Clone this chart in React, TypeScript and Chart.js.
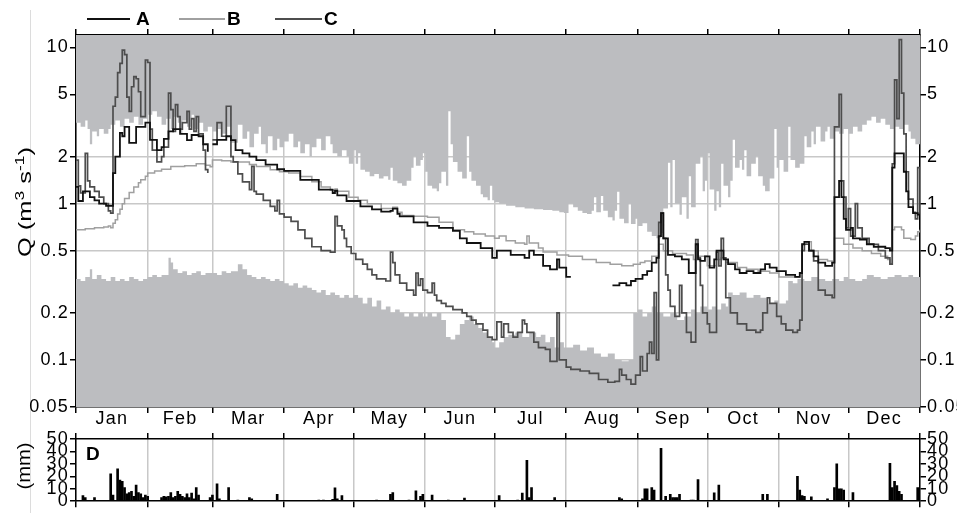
import React, { useEffect, useRef } from 'react';
import { Chart, registerables } from 'chart.js';

Chart.register(...registerables);

// Day-of-year month boundaries (non-leap year) and labels
const monthStarts = [0, 31, 59, 90, 120, 151, 181, 212, 243, 273, 304, 334, 365];
const monthNames = ['Jan', 'Feb', 'Mar', 'Apr', 'May', 'Jun', 'Jul', 'Aug', 'Sep', 'Oct', 'Nov', 'Dec'];
const flowTicks = [0.05, 0.1, 0.2, 0.5, 1, 2, 5, 10];
const rainTicks = [0, 10, 20, 30, 40, 50];
const seriesNames = ['A', 'B', 'C'];

type Pt = [number, number | null];

// Upper limit of the unshaded band (shaded above), daily discharge m3/s
const upperEnvelope: Pt[] = [
  [0, 3.3], [2, 3.1], [4, 3.4], [5, 3.0], [6, 2.4], [7, 2.9], [9, 2.7], [10, 3.0], [12, 2.8], [14, 3.0],
  [15, 3.2], [17, 3.4], [19, 3.1], [21, 3.5], [23, 3.3], [25, 3.6], [27, 3.2], [29, 3.5],
  [31, 3.7], [33, 3.9], [35, 3.6], [37, 3.2], [39, 3.5], [41, 3.0], [42, 3.6], [44, 3.3], [45, 2.8], [46, 3.4],
  [48, 3.1], [50, 3.7], [51, 3.0], [53, 3.3], [55, 2.9], [57, 3.1],
  [59, 2.9], [61, 3.0], [63, 2.8], [65, 3.1], [67, 2.45], [70, 3.2], [72, 2.6], [74, 2.9], [75, 2.3], [77, 2.8],
  [79, 3.1], [80, 2.4], [82, 2.1], [83, 2.7], [85, 2.2], [87, 2.6], [88, 2.3],
  [90, 2.5], [92, 2.8], [94, 2.3], [96, 2.5], [97, 2.1], [99, 2.4], [101, 2.0], [102, 2.3], [104, 2.6], [106, 2.2],
  [108, 2.7], [110, 2.4], [111, 2.1], [113, 2.0], [115, 2.2], [117, 2.0], [118, 1.8],
  [120, 2.2], [121, 1.8], [122, 2.1], [123, 1.65], [125, 1.6], [127, 1.5], [129, 1.55], [131, 1.45], [133, 1.5],
  [135, 1.42], [136, 1.7], [137, 1.4], [139, 1.35], [141, 1.3], [143, 1.4], [145, 1.7], [146, 2.0], [147, 1.75],
  [149, 1.9], [150, 2.1],
  [151, 1.6], [152, 1.3], [154, 1.25], [156, 1.2], [157, 1.35], [158, 1.6], [160, 1.3], [161, 3.9], [162, 2.4],
  [163, 1.85], [165, 1.6], [167, 1.45], [169, 2.7], [170, 1.6], [171, 1.4], [173, 1.3], [175, 1.15], [176, 1.1],
  [178, 1.05], [179, 1.3], [180, 1.05],
  [181, 1.02], [183, 1.0], [186, 0.97], [190, 0.95], [194, 0.93], [198, 0.92], [202, 0.91], [206, 0.9], [209, 0.88], [211, 0.87],
  [213, 1.0], [215, 0.95], [217, 0.9], [219, 0.87], [221, 0.86], [223, 0.9], [224, 1.1], [225, 0.88], [227, 1.12],
  [228, 0.9], [230, 0.82], [232, 0.78], [233, 0.9], [234, 1.19], [235, 0.8], [237, 0.75], [239, 1.0], [240, 0.74], [242, 0.8],
  [243, 0.72], [245, 0.75], [247, 0.66], [249, 0.62], [251, 0.6], [253, 0.65], [254, 0.93], [256, 1.83], [257, 0.95],
  [258, 1.9], [259, 1.0], [261, 0.85], [262, 1.1], [264, 0.8], [265, 1.5], [266, 0.95], [268, 1.8], [270, 2.0], [271, 1.2], [272, 1.4],
  [273, 2.1], [274, 1.23], [276, 0.9], [277, 1.2], [278, 0.95], [279, 1.8], [280, 1.3], [282, 1.1], [283, 1.4], [284, 2.56],
  [285, 1.7], [287, 1.9], [288, 1.65], [289, 2.2], [290, 1.5], [292, 1.8], [294, 2.0], [295, 1.5], [297, 1.3], [298, 1.2],
  [300, 1.45], [302, 3.0], [303, 1.7],
  [304, 1.9], [306, 1.6], [308, 3.1], [309, 1.9], [311, 1.7], [313, 1.8], [315, 2.7], [316, 2.3], [318, 2.9], [319, 2.4],
  [320, 3.1], [322, 2.5], [324, 2.9], [325, 3.1], [326, 2.6], [328, 2.9], [330, 2.8], [332, 3.0],
  [334, 2.8], [336, 3.1], [338, 2.9], [340, 3.2], [342, 3.4], [344, 3.6], [346, 3.3], [348, 3.5], [350, 3.2], [352, 3.0],
  [354, 3.1], [356, 3.0], [358, 3.2], [360, 2.9], [361, 2.6], [363, 2.4], [365, 2.3],
];

// Lower limit of the unshaded band (shaded below)
const lowerEnvelope: Pt[] = [
  [0, 0.33], [2, 0.32], [4, 0.34], [6, 0.38], [7, 0.33], [9, 0.35], [11, 0.33], [13, 0.32], [15, 0.34], [17, 0.32],
  [19, 0.33], [21, 0.32], [23, 0.34], [25, 0.33], [27, 0.32], [29, 0.33],
  [31, 0.34], [33, 0.35], [35, 0.34], [37, 0.35], [40, 0.45], [41, 0.42], [42, 0.38], [44, 0.36], [46, 0.37], [48, 0.35],
  [50, 0.36], [52, 0.37], [54, 0.35], [56, 0.36],
  [59, 0.36], [61, 0.35], [63, 0.37], [65, 0.36], [67, 0.37], [70, 0.41], [72, 0.38], [74, 0.35], [76, 0.34], [78, 0.33],
  [80, 0.34], [82, 0.33], [84, 0.32], [86, 0.33], [88, 0.32],
  [90, 0.31], [92, 0.3], [94, 0.31], [96, 0.29], [98, 0.3], [100, 0.29], [102, 0.28], [104, 0.27], [106, 0.28], [108, 0.26],
  [110, 0.27], [112, 0.26], [114, 0.25], [116, 0.26], [118, 0.25],
  [120, 0.26], [122, 0.25], [124, 0.23], [126, 0.25], [128, 0.22], [130, 0.24], [132, 0.21], [134, 0.22], [136, 0.2],
  [138, 0.21], [140, 0.2], [142, 0.19], [144, 0.2], [146, 0.19], [148, 0.2], [150, 0.19],
  [152, 0.2], [154, 0.19], [156, 0.2], [158, 0.18], [160, 0.14], [162, 0.135], [164, 0.145], [166, 0.17], [168, 0.18],
  [170, 0.19], [172, 0.17], [174, 0.16], [176, 0.15], [178, 0.14], [180, 0.13],
  [181, 0.12], [183, 0.13], [185, 0.14], [187, 0.145], [190, 0.15], [193, 0.14], [196, 0.15], [199, 0.14], [201, 0.145],
  [203, 0.13], [205, 0.14], [207, 0.12], [209, 0.13], [211, 0.12],
  [213, 0.12], [215, 0.125], [218, 0.115], [221, 0.12], [224, 0.11], [227, 0.105], [230, 0.11], [233, 0.1], [236, 0.098],
  [239, 0.1], [241, 0.2],
  [243, 0.21], [245, 0.19], [247, 0.2], [249, 0.22], [251, 0.2], [254, 0.19], [257, 0.2], [260, 0.18], [263, 0.19],
  [266, 0.21], [268, 0.2], [270, 0.22],
  [273, 0.21], [275, 0.22], [277, 0.21], [279, 0.23], [281, 0.22], [282, 0.27], [284, 0.26], [287, 0.27], [290, 0.25],
  [293, 0.26], [296, 0.25], [299, 0.23], [302, 0.24],
  [304, 0.23], [307, 0.24], [308, 0.32], [310, 0.31], [312, 0.33], [315, 0.32], [318, 0.34], [321, 0.33], [324, 0.32],
  [327, 0.33], [330, 0.32], [332, 0.34],
  [334, 0.33], [337, 0.32], [340, 0.33], [342, 0.35], [345, 0.34], [348, 0.33], [351, 0.34], [354, 0.35], [357, 0.34],
  [360, 0.35], [362, 0.34], [365, 0.33],
];

// Station discharge series
const flowA: Pt[] = [
  [0, 1.28], [1, 1.04], [3, 1.2], [6, 1.1], [8, 1.05], [10, 1.0], [13, 0.97], [16, 1.57], [17, 2.0], [19, 2.84],
  [20, 2.7], [21, 3.1], [23, 2.45], [26, 3.1], [30, 3.3], [32, 2.56], [35, 2.2], [37, 2.3], [38, 2.6], [40, 2.9],
  [42, 3.0], [45, 2.8], [48, 2.55], [50, 2.75], [53, 2.7], [55, 2.4], [57, 2.15], [58, null],
  [59, 2.4], [61, 2.56], [65, 2.7], [67, 2.55], [69, 2.2], [72, 2.1], [75, 2.0], [78, 1.9], [82, 1.78], [87, 1.66],
  [90, 1.62], [97, 1.42], [105, 1.23], [111, 1.17], [112, 1.21], [113, 1.13], [117, 1.04], [123, 0.96], [128, 0.92],
  [132, 0.89], [136, 0.9], [137, 0.93], [139, 0.86], [140, 0.83], [146, 0.76], [152, 0.72], [157, 0.7], [163, 0.67],
  [166, 0.6], [169, 0.56], [175, 0.52], [180, 0.45], [182, 0.5], [184, 0.5], [188, 0.47], [194, 0.45], [196, 0.5],
  [198, 0.47], [202, 0.4], [205, 0.38], [208, 0.44], [209, 0.39], [212, 0.34], [214, 0.34], [215, null],
  [232, 0.3], [235, 0.31], [238, 0.3], [240, 0.32], [242, 0.33], [245, 0.35], [247, 0.37], [249, 0.42], [251, 0.45],
  [252, 0.62], [253, 0.87], [254, 0.6], [256, 0.47], [259, 0.46], [262, 0.44], [265, 0.36], [268, 0.55], [269, 0.44],
  [270, 0.43], [272, 0.46], [274, 0.39], [276, 0.44], [277, 0.5], [279, 0.5], [280, 0.44], [282, 0.41], [285, 0.38],
  [287, 0.36], [290, 0.37], [293, 0.36], [296, 0.38], [298, 0.41], [300, 0.39], [303, 0.37], [307, 0.35], [311, 0.34],
  [313, 0.36], [314, 0.55], [315, 0.57], [317, 0.5], [319, 0.46], [321, 0.42], [324, 0.4], [327, 0.42], [328, 1.1],
  [330, 1.4], [331, 1.1], [332, 0.8], [333, 0.68], [335, 0.7], [336, 0.6], [339, 0.59], [342, 0.55], [345, 0.53],
  [350, 0.52], [352, 0.5], [353, 1.7], [354, 2.1], [357, 2.1], [358, 1.6], [359, 1.2], [360, 0.95], [362, 0.87],
  [364, 0.85], [365, 0.85],
];

const flowB: Pt[] = [
  [0, 0.68], [4, 0.69], [8, 0.7], [12, 0.71], [14, 0.72], [15, 0.7], [16, 0.75], [17, 0.79], [18, 0.86], [19, 0.92],
  [20, 1.0], [21, 1.08], [23, 1.18], [25, 1.28], [27, 1.36], [28, 1.42], [30, 1.5], [31, 1.57], [34, 1.62], [37, 1.66],
  [41, 1.73], [47, 1.75], [52, 1.8], [56, 1.76], [58, 1.72], [59, 1.9], [63, 1.88], [67, 1.85], [72, 1.85], [75, 1.78],
  [78, 1.73], [84, 1.65], [88, 1.6], [92, 1.57], [97, 1.49], [102, 1.38], [106, 1.28], [110, 1.22], [112, 1.24],
  [113, 1.2], [118, 1.1], [122, 1.05], [126, 1.0], [132, 0.93], [136, 0.93], [137, 0.95], [139, 0.88], [141, 0.84],
  [146, 0.83], [152, 0.82], [157, 0.76], [163, 0.68], [168, 0.66], [172, 0.64], [177, 0.62], [181, 0.6], [183, 0.62],
  [186, 0.58], [190, 0.56], [194, 0.55], [195, 0.62], [196, 0.56], [200, 0.52], [202, 0.49], [208, 0.47], [213, 0.46],
  [219, 0.44], [225, 0.42], [231, 0.41], [236, 0.4], [241, 0.41], [244, 0.42], [246, 0.43], [249, 0.46], [252, 0.55],
  [254, 0.5], [258, 0.48], [264, 0.47], [267, 0.44], [268, 0.55], [269, 0.46], [273, 0.4], [277, 0.44], [279, 0.45],
  [281, 0.42], [286, 0.39], [290, 0.38], [295, 0.37], [300, 0.36], [304, 0.34], [308, 0.34], [313, 0.36], [314, 0.55],
  [316, 0.57], [318, 0.5], [321, 0.44], [325, 0.43], [327, 0.42], [328, 0.6], [330, 0.6], [332, 0.55], [336, 0.52],
  [340, 0.5], [344, 0.48], [348, 0.46], [351, 0.44], [352, 0.41], [353, 0.68], [354, 0.71], [357, 0.68], [358, 0.6],
  [361, 0.59], [363, 0.62], [364, 0.66], [365, 0.68],
];

const flowC: Pt[] = [
  [0, 1.9], [1, 1.3], [2, 1.17], [4, 2.1], [5, 1.4], [6, 1.28], [8, 1.2], [10, 1.1], [12, 1.0], [14, 0.9], [15, 0.87],
  [16, 4.2], [17, 4.8], [18, 6.9], [19, 7.9], [20, 9.6], [21, 9.0], [22, 4.8], [23, 3.9], [24, 5.6], [25, 6.5], [26, 6.3],
  [27, 5.2], [28, 3.6], [30, 8.3], [31, 8.0], [32, 3.0], [33, 2.2], [35, 1.85], [37, 2.0], [38, 2.3], [40, 5.1], [41, 4.0],
  [42, 2.9], [43, 4.3], [44, 3.6], [45, 3.0], [46, 3.3], [48, 3.9], [49, 3.0], [50, 3.5], [51, 2.9], [52, 3.6], [53, 2.8],
  [55, 2.2], [56, 1.65], [57, 1.57], [58, null],
  [59, 2.56], [61, 3.3], [63, 2.7], [65, 4.2], [67, 2.0], [68, 1.85], [70, 1.55], [72, 1.38], [75, 1.23], [76, 1.73],
  [77, 1.2], [78, 1.15], [81, 1.05], [84, 0.96], [86, 0.9], [87, 1.05], [88, 0.86], [90, 0.82], [93, 0.77], [96, 0.68],
  [99, 0.6], [102, 0.53], [106, 0.5], [110, 0.49], [112, 0.83], [113, 0.72], [115, 0.68], [116, 0.6], [117, 0.53],
  [119, 0.48], [121, 0.44], [124, 0.41], [126, 0.38], [128, 0.35], [130, 0.33], [134, 0.32], [136, 0.49], [137, 0.42],
  [138, 0.35], [140, 0.31], [143, 0.28], [146, 0.26], [147, 0.36], [148, 0.3], [149, 0.33], [150, 0.28], [152, 0.27],
  [154, 0.31], [155, 0.26], [156, 0.24], [158, 0.23], [160, 0.22], [163, 0.21], [165, 0.21], [167, 0.2], [169, 0.19],
  [171, 0.18], [173, 0.17], [176, 0.155], [178, 0.14], [180, 0.135], [182, 0.175], [184, 0.14], [185, 0.17], [187, 0.15],
  [189, 0.14], [191, 0.15], [193, 0.18], [194, 0.17], [195, 0.15], [198, 0.13], [200, 0.12], [203, 0.117], [205, 0.098],
  [208, 0.2], [209, 0.1], [212, 0.09], [214, 0.087], [218, 0.085], [222, 0.082], [226, 0.075], [230, 0.072], [233, 0.073],
  [235, 0.087], [236, 0.08], [238, 0.075], [240, 0.07], [242, 0.08], [244, 0.105], [245, 0.085], [247, 0.11], [248, 0.13],
  [249, 0.11], [250, 0.27], [251, 0.1], [252, 0.76], [253, 0.87], [254, 0.6], [255, 0.35], [256, 0.28], [257, 0.22],
  [259, 0.19], [261, 0.3], [262, 0.2], [264, 0.15], [266, 0.13], [268, 0.59], [269, 0.45], [270, 0.3], [271, 0.2],
  [273, 0.17], [274, 0.15], [276, 0.15], [277, 0.49], [278, 0.4], [279, 0.6], [280, 0.45], [281, 0.25], [283, 0.2],
  [286, 0.17], [290, 0.155], [294, 0.15], [296, 0.155], [297, 0.2], [299, 0.25], [300, 0.23], [303, 0.19], [305, 0.17],
  [307, 0.155], [310, 0.15], [312, 0.155], [313, 0.18], [314, 0.5], [315, 0.55], [317, 0.5], [319, 0.43], [321, 0.28],
  [324, 0.26], [327, 0.25], [328, 3.1], [330, 5.0], [331, 1.4], [332, 1.1], [333, 0.7], [334, 0.93], [335, 0.62],
  [337, 1.0], [338, 0.7], [340, 0.6], [343, 0.55], [347, 0.5], [350, 0.45], [352, 0.41], [353, 1.8], [354, 6.2],
  [355, 3.5], [356, 11.2], [357, 5.1], [358, 2.8], [359, 1.6], [360, 1.07], [362, 0.88], [363, 0.8], [364, 1.7], [365, 0.85],
];

// Daily precipitation, mm
const rainD: Pt[] = [
  [3, 4.5], [4, 3], [8, 3], [15, 22], [16, 5], [18, 26], [19, 17], [20, 16], [21, 11], [22, 6], [23, 7], [24, 8], [25, 4],
  [26, 13], [27, 7], [28, 6], [29, 3], [30, 5], [31, 4], [37, 3], [38, 4], [39, 3.5], [40, 4], [41, 7], [42, 3], [43, 4],
  [44, 8], [45, 5.5], [46, 4], [47, 3], [48, 6], [49, 3], [50, 6.5], [51, 2], [52, 11], [53, 5], [58, 3], [59, 5],
  [61, 14], [62, 2], [66, 11], [70, 1], [75, 3], [76, 2], [87, 5.5], [105, 1], [107, 1], [111, 1.5], [112, 10.7],
  [113, 2], [115, 4.5], [130, 1], [136, 5.5], [137, 7], [144, 1], [147, 8.4], [149, 4], [150, 5.5], [154, 5], [161, 1],
  [168, 2.5], [183, 4.5], [191, 1], [193, 6.5], [195, 32.8], [196, 3], [197, 11], [207, 3], [235, 3], [236, 2],
  [245, 2], [246, 10], [247, 10], [249, 11], [250, 9], [253, 42.5], [255, 4], [257, 5.5], [258, 3], [259, 3], [260, 3],
  [261, 5.5], [266, 1], [267, 1], [269, 17.4], [276, 6.7], [278, 13], [290, 0.5], [297, 5.5], [299, 5.5], [312, 20],
  [313, 9], [314, 4.5], [315, 4], [318, 3.5], [325, 2], [328, 11], [329, 30], [330, 10], [331, 10], [332, 9], [336, 7],
  [352, 30.5], [353, 11], [354, 16], [355, 12.5], [356, 8], [357, 5.5], [364, 11],
];

const FONT = "'Liberation Sans', Arial, Helvetica, sans-serif";
const GRID = '#c8c8c8';
const BAND = '#bcbdc0';
const SERIES_COLORS = ['#111111', '#a0a0a0', '#4d4d4d'];
const SERIES_WIDTHS = [1.8, 1.5, 1.7];
const TICK_FONT = { family: FONT, size: 18 };
const TICK_SPACING = '1.2px';
const EDGE = { display: true, color: '#000', width: 1.5 };
const CLEAR = 'rgba(0,0,0,0)';

const monthMids = monthStarts.slice(0, -1).map((s, i) => (s + monthStarts[i + 1]) / 2);
const isBoundary = (v: any) => monthStarts.includes(v);
const toXY = (pts: Pt[]) => pts.map(([x, y]) => ({ x, y }));
const forceTicks = (values: number[]) => (scale: any) => {
  scale.ticks = values.map((value) => ({ value }));
};

// Legend entries and panel text placement (pixels)
const legendLayout = [
  { x0: 87, x1: 130, tx: 136 },
  { x0: 179, x1: 225, tx: 227 },
  { x0: 275, x1: 322, tx: 324 },
];

// Rotated axis title with optional superscript parts, stretched to a given length
function drawRotated(
  ctx: CanvasRenderingContext2D,
  cx: number,
  cy: number,
  length: number,
  size: number,
  parts: { t: string; sup?: boolean }[],
) {
  ctx.save();
  (ctx as any).letterSpacing = '0px';
  ctx.translate(cx, cy);
  ctx.rotate(-Math.PI / 2);
  ctx.fillStyle = '#000';
  ctx.textBaseline = 'alphabetic';
  ctx.textAlign = 'left';
  const supSize = Math.round(size * 0.68);
  let total = 0;
  for (const p of parts) {
    ctx.font = `${p.sup ? supSize : size}px ${FONT}`;
    total += ctx.measureText(p.t).width;
  }
  ctx.scale(length / total, 1);
  let x = -total / 2;
  for (const p of parts) {
    ctx.font = `${p.sup ? supSize : size}px ${FONT}`;
    ctx.fillText(p.t, x, p.sup ? -0.5 : size * 0.36);
    x += ctx.measureText(p.t).width;
  }
  ctx.restore();
}

const spacing = {
  id: 'tickSpacing',
  beforeDraw(chart: any) {
    (chart.ctx as any).letterSpacing = TICK_SPACING;
  },
};

const flowDecor = {
  id: 'flowDecor',
  afterDraw(chart: any) {
    const ctx: CanvasRenderingContext2D = chart.ctx;
    ctx.save();
    (ctx as any).letterSpacing = '0px';
    legendLayout.forEach((l, i) => {
      ctx.strokeStyle = SERIES_COLORS[i];
      ctx.lineWidth = 2;
      ctx.beginPath();
      ctx.moveTo(l.x0, 19);
      ctx.lineTo(l.x1, 19);
      ctx.stroke();
      ctx.fillStyle = '#000';
      ctx.font = `bold 19px ${FONT}`;
      ctx.textBaseline = 'middle';
      ctx.textAlign = 'left';
      ctx.fillText(seriesNames[i], l.tx, 20);
    });
    ctx.restore();
    drawRotated(ctx, 24, 202, 110, 19, [
      { t: 'Q (m' }, { t: '3', sup: true }, { t: ' s' }, { t: '-1', sup: true }, { t: ')' },
    ]);
  },
};

const rainDecor = {
  id: 'rainDecor',
  afterDraw(chart: any) {
    const ctx: CanvasRenderingContext2D = chart.ctx;
    ctx.save();
    (ctx as any).letterSpacing = '0px';
    ctx.fillStyle = '#000';
    ctx.font = `bold 19px ${FONT}`;
    ctx.textBaseline = 'middle';
    ctx.textAlign = 'left';
    ctx.fillText('D', chart.chartArea.left + 10, chart.chartArea.top + 16);
    ctx.restore();
    drawRotated(ctx, 24, 41, 47, 18, [{ t: '(mm)' }]);
  },
};

function xAxis(position: 'top' | 'bottom', size: number, withLabels: boolean, onArea: boolean) {
  const ticks = withLabels ? [...monthStarts, ...monthMids].sort((a, b) => a - b) : monthStarts;
  return {
    type: 'linear',
    position,
    min: 0,
    max: 365,
    offset: false,
    afterBuildTicks: forceTicks(ticks),
    afterFit: (s: any) => { s.height = size; },
    grid: {
      offset: false,
      drawOnChartArea: onArea,
      color: (c: any) => (isBoundary(c.tick?.value) ? GRID : CLEAR),
      lineWidth: 1.5,
      tickLength: 6,
      tickWidth: 1.5,
      tickColor: (c: any) => (isBoundary(c.tick?.value) ? '#000' : CLEAR),
    },
    border: EDGE,
    ticks: withLabels
      ? {
          autoSkip: false,
          maxRotation: 0,
          padding: -5,
          color: '#000',
          font: TICK_FONT,
          callback: (v: number) => {
            const i = monthMids.indexOf(v);
            return i >= 0 ? monthNames[i] : '';
          },
        }
      : { display: false },
  };
}

function yAxis(type: string, position: 'left' | 'right', min: number, max: number, values: number[], onArea: boolean) {
  return {
    type,
    position,
    min,
    max,
    bounds: 'data',
    afterBuildTicks: forceTicks(values),
    afterFit: (s: any) => { s.width = position === 'left' ? 76 : 37; },
    grid: {
      drawOnChartArea: onArea,
      color: GRID,
      lineWidth: 1.5,
      tickLength: 6,
      tickWidth: 1.5,
      tickColor: '#000',
    },
    border: EDGE,
    ticks: {
      autoSkip: false,
      padding: position === 'left' ? 1 : 1,
      color: '#000',
      font: TICK_FONT,
      callback: (v: number) => String(v),
    },
  };
}

export default function App() {
  const flowRef = useRef<HTMLCanvasElement>(null);
  const rainRef = useRef<HTMLCanvasElement>(null);

  useEffect(() => {
    const lineSet = (pts: Pt[], i: number) => ({
      label: seriesNames[i],
      data: toXY(pts),
      borderColor: SERIES_COLORS[i],
      borderWidth: SERIES_WIDTHS[i],
      stepped: true,
      fill: false,
      spanGaps: false,
      pointRadius: 0,
      order: [0, 2, 1][i],
    });

    const flowChart = new Chart(flowRef.current as HTMLCanvasElement, {
      type: 'line',
      data: {
        datasets: [
          lineSet(flowA, 0),
          lineSet(flowB, 1),
          lineSet(flowC, 2),
          {
            label: 'upper',
            data: toXY(upperEnvelope),
            borderWidth: 0,
            borderColor: BAND,
            backgroundColor: BAND,
            stepped: true,
            fill: 'end',
            pointRadius: 0,
            order: 10,
          },
          {
            label: 'lower',
            data: toXY(lowerEnvelope),
            borderWidth: 0,
            borderColor: BAND,
            backgroundColor: BAND,
            stepped: true,
            fill: 'start',
            pointRadius: 0,
            order: 11,
          },
        ],
      } as any,
      options: {
        animation: false,
        responsive: false,
        maintainAspectRatio: false,
        layout: { padding: 0 },
        events: [],
        plugins: { legend: { display: false }, tooltip: { enabled: false } },
        scales: {
          x: xAxis('bottom', 23, true, true),
          xTop: xAxis('top', 35, false, false),
          y: yAxis('logarithmic', 'left', 0.05, 12, flowTicks, true),
          y2: yAxis('logarithmic', 'right', 0.05, 12, flowTicks, false),
        } as any,
      },
      plugins: [spacing, flowDecor],
    });

    const rainChart = new Chart(rainRef.current as HTMLCanvasElement, {
      type: 'bar',
      data: {
        datasets: [
          {
            label: 'D',
            data: toXY(rainD),
            backgroundColor: '#000',
            borderWidth: 0,
            barThickness: 2,
          },
        ],
      } as any,
      options: {
        animation: false,
        responsive: false,
        maintainAspectRatio: false,
        layout: { padding: 0 },
        events: [],
        plugins: { legend: { display: false }, tooltip: { enabled: false } },
        scales: {
          x: xAxis('bottom', 7, false, true),
          xTop: xAxis('top', 14, false, false),
          y: yAxis('linear', 'left', 0, 50, rainTicks, false),
          y2: yAxis('linear', 'right', 0, 50, rainTicks, false),
        } as any,
      },
      plugins: [spacing, rainDecor],
    });

    return () => {
      flowChart.destroy();
      rainChart.destroy();
    };
  }, []);

  return (
    <div style={{ position: 'absolute', left: 0, top: 0, width: 957, height: 513, background: '#fff', overflow: 'hidden' }}>
      <div style={{ position: 'absolute', left: 30, top: 10, width: 1, height: 503, background: '#dcdcdc' }} />
      <canvas ref={flowRef} width={957} height={430} style={{ position: 'absolute', left: 0, top: 0, width: 957, height: 430 }} />
      <canvas ref={rainRef} width={957} height={88} style={{ position: 'absolute', left: 0, top: 425, width: 957, height: 88 }} />
    </div>
  );
}
